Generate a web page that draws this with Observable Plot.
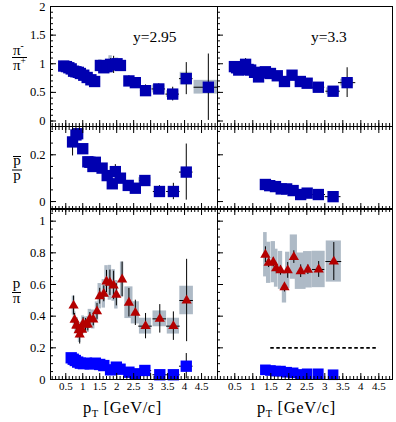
<!DOCTYPE html>
<html><head><meta charset="utf-8">
<script src="https://cdn.jsdelivr.net/npm/d3@7"></script>
<script src="https://cdn.jsdelivr.net/npm/@observablehq/plot@0.6"></script>
<style>
body{margin:0;background:#fff}
#chart{position:relative;width:396px;height:422px;overflow:hidden;background:#fff}
#chart svg{position:absolute;font-family:'Liberation Serif',serif}
#chart svg text{font-family:'Liberation Serif',serif}
</style></head><body><div id="chart"></div>
<script>
// ---------- tick labels ----------
const xTickLabels = [0.5, 1, 1.5, 2, 2.5, 3, 3.5, 4, 4.5];
const yTickLabelsPi = [0, 0.5, 1, 1.5, 2];
const yTickLabelsPbar = [0, 0.2];
const yTickLabelsPpi = [0, 0.2, 0.4, 0.6, 0.8, 1];
const panelLabels = ["y=2.95", "y=3.3"];

// ---------- pi-/pi+ , y = 2.95 ----------
const ptPiY295   = [0.44,0.52,0.59,0.66,0.73,0.80,0.87,0.93,1.03,1.13,1.24,1.35,1.52,1.62,1.72,1.82,1.91,2.01,2.11,2.36,2.55,2.85,3.24,3.65,4.05,4.70];
const piY295     = [0.96,0.95,0.93,0.91,0.87,0.86,0.85,0.83,0.80,0.76,0.72,0.69,0.97,0.93,0.95,0.99,0.98,1.00,0.97,0.70,0.67,0.53,0.56,0.47,0.74,0.59];
const piStatY295 = [0.03,0.03,0.03,0.03,0.03,0.03,0.03,0.03,0.03,0.03,0.04,0.04,0.05,0.06,0.08,0.10,0.15,0.08,0.06,0.09,0.07,0.10,0.09,0.12,0.28,0.58];
const piSysY295  = [0.06,0.06,0.06,0.06,0.06,0.06,0.06,0.06,0.06,0.06,0.06,0.06,0.10,0.10,0.12,0.15,0.10,0.10,0.10,0.08,0.08,0.06,0.07,0.06,0.11,0.12];
const piBinY295  = [0.05,0.05,0.05,0.05,0.05,0.05,0.05,0.05,0.05,0.05,0.05,0.05,0.05,0.05,0.05,0.05,0.05,0.05,0.05,0.10,0.10,0.15,0.18,0.18,0.18,0.42];
const piXerrY295 = [0,0,0,0,0,0,0,0,0,0,0,0,0,0,0,0,0,0,0,0,0,0.15,0.2,0.2,0.2,0.42];

// ---------- pi-/pi+ , y = 3.3 ----------
const ptPiY33    = [0.49,0.55,0.61,0.70,0.80,0.87,0.94,1.05,1.16,1.25,1.35,1.49,1.68,1.88,2.09,2.32,2.51,2.82,3.23,3.62];
const piY33      = [0.95,0.93,0.89,0.92,0.99,0.90,0.89,0.85,0.77,0.84,0.86,0.83,0.79,0.69,0.80,0.69,0.66,0.59,0.52,0.67];
const piStatY33  = [0.03,0.03,0.03,0.04,0.10,0.04,0.04,0.04,0.05,0.04,0.04,0.04,0.04,0.04,0.04,0.04,0.04,0.05,0.04,0.26];
const piSysY33   = [0.06,0.06,0.06,0.06,0.08,0.06,0.06,0.06,0.06,0.06,0.06,0.06,0.06,0.06,0.06,0.06,0.06,0.06,0.06,0.06];
const piBinY33   = [0.05,0.05,0.05,0.05,0.05,0.05,0.05,0.05,0.05,0.05,0.05,0.05,0.05,0.05,0.05,0.10,0.10,0.15,0.18,0.18];
const piXerrY33  = [0,0,0,0,0,0,0,0,0,0,0,0,0,0,0,0,0,0.18,0.2,0.24];

// ---------- pbar/p , y = 2.95 ----------
const ptPbarY295   = [0.70,0.80,0.85,1.00,1.15,1.21,1.30,1.37,1.57,1.72,1.87,1.96,2.11,2.34,2.55,2.83,3.26,3.67,4.05];
const pbarY295     = [0.255,0.285,0.29,0.226,0.17,0.168,0.15,0.168,0.143,0.111,0.076,0.128,0.10,0.069,0.057,0.09,0.043,0.043,0.126];
const pbarStatY295 = [0.06,0.02,0.02,0.015,0.015,0.015,0.015,0.015,0.015,0.02,0.02,0.03,0.02,0.015,0.02,0.02,0.025,0.035,0.12];
const pbarSysY295  = [0.02,0.02,0.02,0.015,0.015,0.015,0.015,0.015,0.015,0.015,0.015,0.015,0.015,0.01,0.01,0.012,0.01,0.01,0.015];
const pbarBinY295  = [0.05,0.05,0.05,0.05,0.05,0.05,0.05,0.05,0.05,0.05,0.05,0.05,0.05,0.05,0.05,0.18,0.15,0.15,0.15];
const pbarXerrY295 = [0,0,0,0,0,0,0,0,0,0,0,0,0,0,0,0.15,0.18,0.2,0.2];

// ---------- pbar/p , y = 3.3 ----------
const ptPbarY33   = [1.35,1.47,1.63,1.79,1.94,2.12,2.33,2.51,2.82,3.23];
const pbarY33     = [0.073,0.068,0.064,0.054,0.054,0.047,0.030,0.036,0.030,0.021];
const pbarXerrY33 = [0,0,0,0,0,0,0,0,0.2,0.22];

// ---------- p/pi , y = 2.95 ----------
const ptPpiY295   = [0.73,0.76,0.81,0.83,0.88,0.91,0.98,1.01,1.08,1.15,1.21,1.31,1.42,1.50,1.62,1.70,1.80,1.91,1.99,2.16,2.36,2.55,2.85,3.27,3.67,4.06];
const ppiY295     = [0.467,0.377,0.341,0.34,0.31,0.284,0.314,0.352,0.345,0.347,0.383,0.379,0.43,0.526,0.541,0.619,0.611,0.594,0.535,0.632,0.485,0.421,0.337,0.383,0.337,0.499];
const ppiStatY295 = [0.06,0.04,0.04,0.04,0.04,0.06,0.04,0.04,0.04,0.04,0.04,0.04,0.05,0.05,0.05,0.07,0.08,0.09,0.07,0.11,0.09,0.08,0.08,0.09,0.09,0.26];
const ppiSysY295  = [0.06,0.05,0.05,0.05,0.05,0.05,0.05,0.05,0.05,0.05,0.06,0.06,0.06,0.08,0.09,0.10,0.11,0.10,0.09,0.11,0.10,0.07,0.05,0.05,0.05,0.09];
const ppiBinY295  = [0.04,0.04,0.04,0.04,0.04,0.04,0.04,0.04,0.04,0.04,0.05,0.05,0.05,0.05,0.05,0.05,0.05,0.05,0.05,0.05,0.12,0.12,0.18,0.20,0.18,0.20];
const ppiXerrY295 = [0,0,0,0,0,0,0,0,0,0,0,0,0,0,0,0,0,0,0,0,0,0,0.2,0.2,0.2,0.2];

// ---------- pbar/pi , y = 2.95 ----------
const ptPbarPiY295   = [0.66,0.72,0.78,0.85,0.93,1.02,1.11,1.22,1.37,1.50,1.62,1.82,1.99,2.10,2.36,2.55,2.83,3.27,3.67,4.05];
const pbarPiY295     = [0.137,0.128,0.12,0.11,0.103,0.10,0.103,0.098,0.103,0.095,0.088,0.061,0.078,0.065,0.046,0.036,0.057,0.030,0.030,0.084];
const pbarPiStatY295 = [0.01,0.01,0.01,0.01,0.01,0.01,0.01,0.01,0.01,0.01,0.01,0.01,0.01,0.01,0.01,0.01,0.012,0.012,0.015,0.08];
const pbarPiXerrY295 = [0,0,0,0,0,0,0,0,0,0,0,0,0,0,0,0,0.2,0.2,0.2,0.2];

// ---------- p/pi , y = 3.3 ----------
const ptPpiY33   = [1.35,1.44,1.57,1.65,1.77,1.88,1.97,2.14,2.33,2.53,2.83,3.25];
const ppiY33     = [0.788,0.737,0.741,0.703,0.689,0.583,0.689,0.773,0.684,0.693,0.695,0.745];
const ppiStatY33 = [0.05,0.03,0.03,0.03,0.03,0.03,0.05,0.04,0.04,0.03,0.05,0.12];
const ppiSysY33  = [0.14,0.13,0.13,0.12,0.12,0.10,0.115,0.14,0.115,0.115,0.115,0.13];
const ppiBinY33  = [0.05,0.06,0.06,0.05,0.06,0.06,0.06,0.10,0.15,0.12,0.18,0.21];
const ppiXerrY33 = [0,0,0,0,0,0,0,0,0,0,0.17,0.22];

// ---------- pbar/pi , y = 3.3 ----------
const ptPbarPiY33 = [1.35,1.49,1.63,1.77,1.94,2.12,2.33,2.51,2.82,3.23];
const pbarPiY33   = [0.061,0.057,0.053,0.053,0.046,0.042,0.032,0.036,0.036,0.030];

// ---------- reference line ----------
const refLine = [{x1: 1.5, x2: 4.5, y: 0.2}];

// ---------- styling ----------
const FONT = "'Liberation Serif', serif";
const GREY = "#aebac6", DARKBLUE = "#0000b0", BLUE = "#0000ff", RED = "#b40000";
const chart = document.getElementById("chart");

function rows(x, y, e, sys, bw, xe) {
  return x.map((v, i) => ({x: v, y: y[i], e: e ? e[i] : 0, sys: sys ? sys[i] : 0, bw: bw ? bw[i] : 0, xe: xe ? xe[i] : 0}));
}
const boxes = r => Plot.rect(r.filter(d => d.sys > 0), {x1: d => d.x - d.bw, x2: d => d.x + d.bw, y1: d => d.y - d.sys, y2: d => d.y + d.sys, fill: GREY, clip: true});
const errs = r => [
  Plot.ruleX(r.filter(d => d.e > 0), {x: "x", y1: d => d.y - d.e, y2: d => d.y + d.e, stroke: "#000", strokeWidth: 1, clip: true}),
  Plot.ruleY(r.filter(d => d.xe > 0), {y: "y", x1: d => d.x - d.xe, x2: d => d.x + d.xe, stroke: "#000", strokeWidth: 1, clip: true})
];
const pts = (r, color, symbol, size) => Plot.dot(r, {x: "x", y: "y", symbol, r: size, fill: color});

const COLS = {L: {x0: 50, x1: 217, dom: [0.05, 4.97]}, R: {x0: 217, x1: 392, dom: [0.02, 4.88]}};
const ROWS = {
  top: {y0: 6, y1: 126, dom: [-0.096, 2.0], major: yTickLabelsPi, minorStep: 0.1},
  mid: {y0: 126, y1: 209, dom: [-0.034, 0.321], major: yTickLabelsPbar, minorStep: 0.05},
  bot: {y0: 208, y1: 379, dom: [0, 1.08], major: yTickLabelsPpi, minorStep: 0.05}
};
const within = (dom) => v => v > dom[0] + 1e-6 && v < dom[1] - 1e-6;

function panel(colKey, rowKey, marks, {yLabels = false, xLabels = false, topTicks = true} = {}) {
  const c = COLS[colKey], rw = ROWS[rowKey];
  const xMajor = d3.range(1, 10).map(i => i * 0.5).filter(within(c.dom));
  const xMinor = d3.range(1, 50).map(i => i / 10).filter(within(c.dom));
  const yMinor = d3.range(Math.ceil(rw.dom[0] / rw.minorStep), Math.floor(rw.dom[1] / rw.minorStep) + 1).map(i => +(i * rw.minorStep).toFixed(3)).filter(within(rw.dom));
  const yMajor = rw.major.filter(within(rw.dom));
  const blank = () => "";
  const axes = [
    Plot.axisY({ticks: yMajor, tickSize: -6, tickFormat: blank, label: null}),
    Plot.axisY({ticks: yMinor, tickSize: -3, tickFormat: blank, label: null}),
    Plot.axisX({anchor: "bottom", ticks: xMajor, tickSize: -6, tickFormat: blank, label: null}),
    Plot.axisX({anchor: "bottom", ticks: xMinor, tickSize: -3, tickFormat: blank, label: null})
  ];
  if (topTicks) axes.push(
    Plot.axisX({anchor: "top", ticks: xMajor, tickSize: -6, tickFormat: blank, label: null}),
    Plot.axisX({anchor: "top", ticks: xMinor, tickSize: -3, tickFormat: blank, label: null})
  );
  if (yLabels) axes.push(Plot.axisY({ticks: rw.major, tickSize: 0, tickPadding: 5, tickFormat: d => String(d), label: null, fontSize: 12.5, fontFamily: FONT}));
  if (xLabels) axes.push(Plot.axisX({anchor: "bottom", ticks: xTickLabels, tickSize: 0, tickPadding: 3, tickFormat: d => String(d), label: null, fontSize: 11, fontFamily: FONT}));
  const svg = Plot.plot({
    width: c.x1 - c.x0, height: rw.y1 - rw.y0, margin: 0,
    x: {domain: c.dom}, y: {domain: rw.dom},
    style: {background: "none", overflow: "visible", fontFamily: FONT, color: "#000"},
    marks: [...marks, ...axes, Plot.frame({stroke: "#000", strokeWidth: 1})]
  });
  svg.setAttribute("font-family", FONT);
  svg.style.left = c.x0 + "px";
  svg.style.top = rw.y0 + "px";
  chart.append(svg);
}

// top row
const rPi295 = rows(ptPiY295, piY295, piStatY295, piSysY295, piBinY295, piXerrY295);
const rPi33 = rows(ptPiY33, piY33, piStatY33, piSysY33, piBinY33, piXerrY33);
panel("L", "top", [boxes(rPi295), ...errs(rPi295), pts(rPi295, DARKBLUE, "square", 6.4)], {yLabels: true, topTicks: false});
panel("R", "top", [boxes(rPi33), ...errs(rPi33), pts(rPi33, DARKBLUE, "square", 6.4)], {topTicks: false});

// middle row
const rPb295 = rows(ptPbarY295, pbarY295, pbarStatY295, pbarSysY295, pbarBinY295, pbarXerrY295);
const rPb33 = rows(ptPbarY33, pbarY33, null, null, null, pbarXerrY33);
panel("L", "mid", [boxes(rPb295), ...errs(rPb295), pts(rPb295, DARKBLUE, "square", 6.4)], {yLabels: true});
panel("R", "mid", [...errs(rPb33), pts(rPb33, DARKBLUE, "square", 6.4)]);

// bottom row
const rPp295 = rows(ptPpiY295, ppiY295, ppiStatY295, ppiSysY295, ppiBinY295, ppiXerrY295);
const rBp295 = rows(ptPbarPiY295, pbarPiY295, pbarPiStatY295, null, null, pbarPiXerrY295);
panel("L", "bot", [boxes(rPp295), ...errs(rPp295), ...errs(rBp295), pts(rBp295, BLUE, "square", 6.4), pts(rPp295, RED, "triangle", 3.8)], {yLabels: true, xLabels: true});
const rPp33 = rows(ptPpiY33, ppiY33, ppiStatY33, ppiSysY33, ppiBinY33, ppiXerrY33);
const rBp33 = rows(ptPbarPiY33, pbarPiY33);
panel("R", "bot", [
  boxes(rPp33),
  Plot.ruleY(refLine, {y: "y", x1: "x1", x2: "x2", stroke: "#000", strokeWidth: 1.6, strokeDasharray: "3.5,2.5"}),
  ...errs(rPp33), pts(rBp33, BLUE, "square", 6), pts(rPp33, RED, "triangle", 3.8)
], {xLabels: true});

// ---------- text overlay ----------
const ov = d3.select(chart).append("svg").attr("width", 396).attr("height", 422)
  .style("left", "0px").style("top", "0px").style("pointer-events", "none")
  .attr("font-family", FONT).style("overflow", "visible");

function label(x, y, str, size, anchor = "start") {
  return ov.append("text").attr("x", x).attr("y", y).attr("font-size", size).attr("text-anchor", anchor).text(str);
}
function hline(x1, x2, y, w = 1) {
  ov.append("line").attr("x1", x1).attr("x2", x2).attr("y1", y).attr("y2", y).attr("stroke", "#000").attr("stroke-width", w);
}
function supText(x, y, base, sup) {
  const t = ov.append("text").attr("x", x).attr("y", y).attr("font-size", 15);
  t.append("tspan").text(base);
  t.append("tspan").attr("dy", -6).attr("font-size", 9.5).text(sup);
}
// panel labels
label(133, 42, panelLabels[0], 15.5);
label(311, 42, panelLabels[1], 15.5);

// y titles
supText(13, 54.5, "π", "-");
hline(12, 27, 57.5);
supText(13, 70, "π", "+");

label(17, 165, "p", 15, "middle");
hline(13, 21, 156.5);
hline(12, 22, 170);
label(17, 180, "p", 15, "middle");

label(16.5, 288, "p", 15, "middle");
hline(12, 21, 292.5);
label(16.5, 303, "π", 15, "middle");

// x titles
function xTitle(x) {
  const tx = ov.append("text").attr("x", x).attr("y", 413).attr("font-size", 16.5).attr("letter-spacing", "0.6px");
  tx.append("tspan").text("p");
  tx.append("tspan").attr("dy", 4).attr("font-size", 10.5).text("T");
  tx.append("tspan").attr("dy", -4).text(" [GeV/c]");
}
xTitle(83);
xTitle(257);
</script></body></html>
